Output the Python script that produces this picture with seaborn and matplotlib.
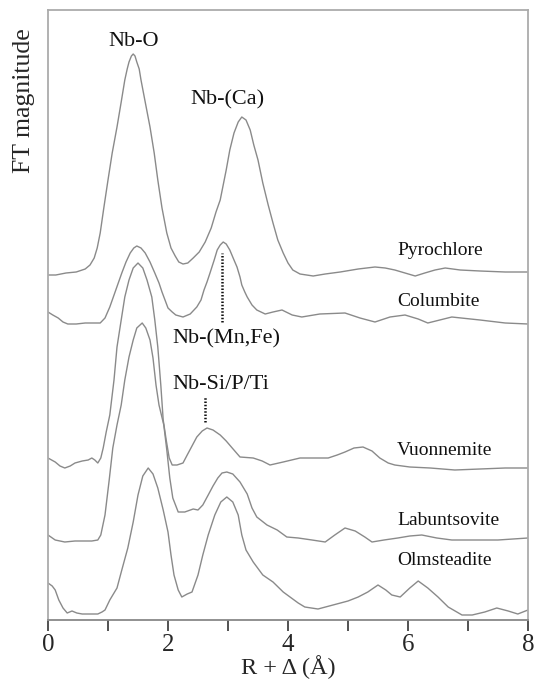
import matplotlib
matplotlib.use("Agg")
import matplotlib.pyplot as plt
import seaborn as sns
import numpy as np

# Stacked Fourier-transform magnitudes (arbitrary units, vertically offset)
r_pyro = [0.0, 0.13, 0.3, 0.47, 0.62, 0.7, 0.77, 0.82, 0.87, 0.93, 1.0, 1.07, 1.15, 1.22, 1.28, 1.32, 1.35, 1.39, 1.42, 1.45, 1.48, 1.52, 1.55, 1.62, 1.7, 1.77, 1.83, 1.9, 1.98, 2.05, 2.12, 2.18, 2.25, 2.33, 2.42, 2.52, 2.62, 2.72, 2.8, 2.87, 2.92, 2.97, 3.03, 3.1, 3.17, 3.23, 3.3, 3.37, 3.43, 3.5, 3.58, 3.67, 3.75, 3.83, 3.92, 4.0, 4.08, 4.2, 4.42, 4.62, 4.87, 5.17, 5.45, 5.62, 5.78, 5.95, 6.12, 6.28, 6.45, 6.62, 6.87, 7.2, 7.62, 8.0]
m_pyro = [345, 345, 347, 348, 351, 355, 362, 372, 387, 412, 440, 467, 493, 518, 540, 551, 558, 564, 566, 564, 558, 551, 540, 518, 493, 467, 440, 412, 387, 372, 364, 358, 356, 357, 362, 368, 378, 392, 408, 420, 435, 450, 470, 487, 498, 503, 500, 490, 475, 460, 437, 415, 397, 380, 367, 357, 350, 346, 344, 346, 348, 351, 353, 352, 350, 347, 344, 347, 350, 352, 350, 349, 348, 348]

r_colu = [0.0, 0.08, 0.17, 0.25, 0.33, 0.47, 0.62, 0.73, 0.87, 0.95, 1.03, 1.13, 1.23, 1.3, 1.37, 1.43, 1.48, 1.55, 1.62, 1.7, 1.78, 1.85, 1.9, 1.95, 2.0, 2.07, 2.13, 2.25, 2.37, 2.48, 2.55, 2.6, 2.65, 2.7, 2.77, 2.82, 2.87, 2.92, 2.97, 3.03, 3.1, 3.15, 3.2, 3.23, 3.28, 3.32, 3.4, 3.48, 3.62, 3.75, 3.9, 4.07, 4.23, 4.53, 4.95, 5.2, 5.45, 5.7, 5.95, 6.17, 6.33, 6.53, 6.73, 7.2, 7.62, 8.0]
m_colu = [308, 305, 302, 298, 296, 296, 297, 297, 297, 302, 313, 330, 347, 358, 367, 372, 374, 372, 367, 358, 347, 337, 328, 320, 312, 308, 305, 303, 306, 313, 320, 330, 338, 347, 360, 370, 375, 378, 376, 370, 360, 353, 343, 335, 328, 323, 315, 310, 306, 308, 310, 305, 303, 306, 307, 302, 298, 303, 305, 301, 297, 300, 303, 300, 297, 296]

r_vuon = [0.0, 0.12, 0.2, 0.28, 0.37, 0.45, 0.57, 0.67, 0.73, 0.78, 0.83, 0.88, 0.92, 0.97, 1.03, 1.1, 1.15, 1.22, 1.28, 1.35, 1.42, 1.5, 1.58, 1.65, 1.73, 1.78, 1.83, 1.88, 1.92, 1.97, 2.02, 2.07, 2.15, 2.25, 2.32, 2.4, 2.48, 2.57, 2.65, 2.75, 2.87, 2.97, 3.07, 3.2, 3.42, 3.57, 3.7, 3.92, 4.2, 4.45, 4.67, 4.82, 4.95, 5.1, 5.25, 5.4, 5.53, 5.67, 5.78, 6.03, 6.37, 6.78, 7.2, 7.62, 8.0]
m_vuon = [162, 158, 154, 152, 154, 157, 159, 160, 162, 160, 157, 162, 172, 188, 205, 240, 273, 300, 323, 340, 352, 357, 352, 340, 323, 300, 273, 235, 200, 180, 162, 155, 155, 157, 165, 174, 183, 189, 192, 190, 185, 179, 172, 163, 162, 159, 155, 158, 162, 162, 162, 165, 168, 172, 173, 169, 162, 157, 155, 153, 152, 150, 151, 152, 152]

r_labu = [0.0, 0.12, 0.28, 0.45, 0.62, 0.73, 0.83, 0.88, 0.95, 1.02, 1.08, 1.15, 1.22, 1.28, 1.35, 1.42, 1.48, 1.57, 1.63, 1.7, 1.75, 1.8, 1.85, 1.93, 1.98, 2.03, 2.08, 2.17, 2.28, 2.42, 2.5, 2.58, 2.67, 2.75, 2.83, 2.9, 2.98, 3.08, 3.2, 3.32, 3.4, 3.48, 3.65, 3.82, 3.98, 4.17, 4.4, 4.62, 4.78, 4.95, 5.12, 5.28, 5.4, 5.6, 5.83, 6.03, 6.23, 6.48, 6.73, 7.12, 7.5, 8.0]
m_labu = [85, 80, 78, 79, 79, 79, 80, 85, 105, 140, 172, 195, 215, 240, 263, 280, 292, 297, 292, 280, 262, 235, 215, 195, 170, 142, 122, 108, 108, 111, 110, 115, 125, 134, 142, 147, 148, 146, 138, 126, 112, 103, 95, 90, 83, 82, 80, 78, 85, 92, 89, 83, 78, 80, 82, 84, 85, 82, 80, 80, 80, 82]

r_olms = [0.0, 0.07, 0.12, 0.18, 0.25, 0.32, 0.4, 0.48, 0.57, 0.7, 0.83, 0.9, 0.95, 1.03, 1.15, 1.23, 1.33, 1.42, 1.5, 1.58, 1.67, 1.75, 1.83, 1.92, 2.0, 2.05, 2.1, 2.17, 2.23, 2.32, 2.4, 2.5, 2.58, 2.67, 2.78, 2.88, 2.98, 3.08, 3.17, 3.23, 3.3, 3.42, 3.58, 3.75, 3.92, 4.17, 4.28, 4.5, 4.75, 5.0, 5.17, 5.33, 5.5, 5.63, 5.73, 5.87, 6.03, 6.17, 6.33, 6.5, 6.67, 6.9, 7.07, 7.28, 7.48, 7.67, 7.83, 8.0]
m_olms = [37, 34, 30, 20, 12, 7, 9, 7, 6, 6, 6, 8, 10, 20, 32, 50, 72, 98, 125, 144, 152, 146, 132, 110, 88, 65, 45, 30, 23, 26, 28, 45, 65, 85, 105, 118, 123, 118, 105, 85, 70, 58, 45, 38, 28, 17, 13, 11, 15, 19, 23, 28, 35, 30, 25, 23, 32, 39, 32, 23, 13, 5, 5, 8, 12, 9, 6, 10]

curve_r = [r_pyro, r_colu, r_vuon, r_labu, r_olms]
curve_m = [m_pyro, m_colu, m_vuon, m_labu, m_olms]
mineral_names = ["Pyrochlore", "Columbite", "Vuonnemite", "Labuntsovite", "Olmsteadite"]
name_y = [365, 314, 165, 95, 55]

# Shell assignments: (text, x, y) and marker positions
shell_labels = ["Nb-O", "Nb-(Ca)", "Nb-(Mn,Fe)", "Nb-Si/P/Ti"]
shell_x = [1.0, 2.37, 2.07, 2.07]
shell_y = [574, 516, 277, 231]
marker_r = [2.9, 2.62]
marker_top = [367, 223]
marker_bottom = [298, 198]

x_ticks = [0, 2, 4, 6, 8]
x_minor = [1, 3, 5, 7]

sns.set_style("white")
serif = ["Liberation Serif", "DejaVu Serif"]
plt.rcParams["font.family"] = serif

fig = plt.figure(figsize=(5.35, 6.81), dpi=100)
ax = fig.add_axes([48 / 535, 61 / 681, 480 / 535, 610 / 681])

line_color = "#8a8a8a"
for r, m in zip(curve_r, curve_m):
    sns.lineplot(x=np.array(r), y=np.array(m), ax=ax, color=line_color,
                 linewidth=1.0, sort=False, estimator=None)

for name, yy in zip(mineral_names, name_y):
    ax.text(5.82, yy, name, fontsize=14, ha="left", va="baseline", color="#111111")

for t, xx, yy in zip(shell_labels, shell_x, shell_y):
    ax.text(xx, yy, t, fontsize=16, ha="left", va="baseline", color="#111111")

for xr, y0, y1 in zip(marker_r, marker_bottom, marker_top):
    ax.plot([xr, xr], [y0, y1], color="#111111", linewidth=1.8,
            linestyle=(0, (0.6, 0.7)))

ax.set_xlim(0, 8)
ax.set_ylim(0, 610)
ax.set_xticks(x_ticks)
ax.set_xticks(x_minor, minor=True)
ax.set_xticklabels([str(t) for t in x_ticks])
ax.set_yticks([])
ax.tick_params(axis="x", which="both", direction="out", length=8, width=1.2,
               color="#333333", pad=2.0, labelsize=18, bottom=True)

for s in ax.spines.values():
    s.set_color("#ababab")
    s.set_linewidth(1.3)
ax.spines["bottom"].set_color("#888888")

ax.set_xlabel("R + Δ (Å)", fontsize=17.5, labelpad=-0.5)
ax.set_ylabel("FT magnitude", fontsize=18.5)
ax.yaxis.set_label_coords(-0.028, 0.852)

fig.savefig("out.png", dpi=100)
